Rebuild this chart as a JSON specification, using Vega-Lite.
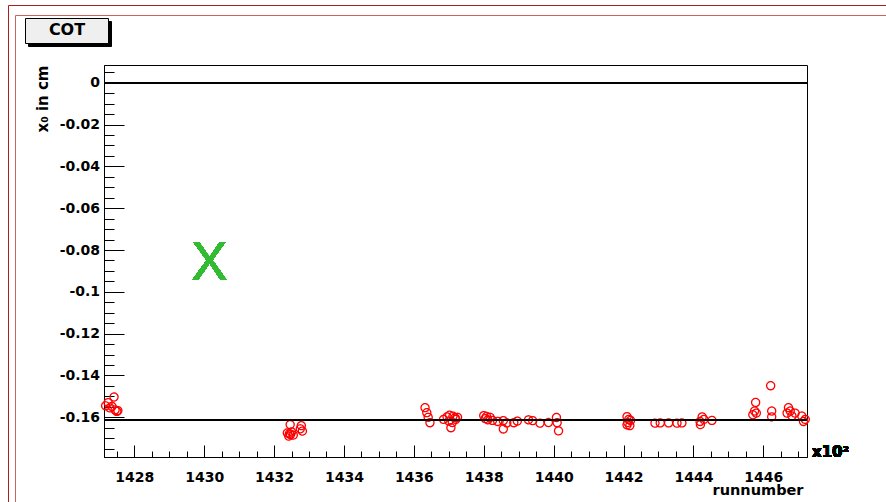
{
  "$schema": "https://vega.github.io/schema/vega-lite/v6.json",
  "width": 703,
  "height": 392,
  "autosize": {"type": "none"},
  "padding": {"left": 104, "top": 65, "right": 79, "bottom": 45},
  "background": "white",
  "config": {"view": {"stroke": "#000", "strokeWidth": 1}, "font": "DejaVu Sans"},
  "resolve": {"axis": {"x": "independent", "y": "independent"}},
  "data": {
    "values": [
      {"run": 1427.18, "x0": -0.1545}, {"run": 1427.25, "x0": -0.153}, {"run": 1427.30, "x0": -0.1555}, {"run": 1427.36, "x0": -0.1548},
      {"run": 1427.42, "x0": -0.1503}, {"run": 1427.45, "x0": -0.1565}, {"run": 1427.50, "x0": -0.1572}, {"run": 1427.53, "x0": -0.1568},
      {"run": 1432.38, "x0": -0.1675}, {"run": 1432.42, "x0": -0.169}, {"run": 1432.47, "x0": -0.1683}, {"run": 1432.50, "x0": -0.167},
      {"run": 1432.44, "x0": -0.1678}, {"run": 1432.46, "x0": -0.1635}, {"run": 1432.55, "x0": -0.1685}, {"run": 1432.75, "x0": -0.1655},
      {"run": 1432.78, "x0": -0.164}, {"run": 1432.81, "x0": -0.1666},
      {"run": 1436.32, "x0": -0.1554}, {"run": 1436.37, "x0": -0.1578}, {"run": 1436.41, "x0": -0.16}, {"run": 1436.46, "x0": -0.1626},
      {"run": 1436.85, "x0": -0.161}, {"run": 1436.95, "x0": -0.1598}, {"run": 1437.02, "x0": -0.159}, {"run": 1437.12, "x0": -0.1595},
      {"run": 1437.20, "x0": -0.161}, {"run": 1437.10, "x0": -0.1625}, {"run": 1437.00, "x0": -0.1618}, {"run": 1437.06, "x0": -0.165},
      {"run": 1437.25, "x0": -0.16}, {"run": 1437.18, "x0": -0.1602},
      {"run": 1438.00, "x0": -0.1592}, {"run": 1438.08, "x0": -0.1596}, {"run": 1438.18, "x0": -0.16}, {"run": 1438.12, "x0": -0.1612},
      {"run": 1438.04, "x0": -0.1606}, {"run": 1438.25, "x0": -0.1615}, {"run": 1438.40, "x0": -0.162}, {"run": 1438.56, "x0": -0.1616},
      {"run": 1438.56, "x0": -0.1656}, {"run": 1438.66, "x0": -0.1627}, {"run": 1438.86, "x0": -0.1626}, {"run": 1438.96, "x0": -0.1618},
      {"run": 1439.28, "x0": -0.1612}, {"run": 1439.40, "x0": -0.1616}, {"run": 1439.61, "x0": -0.1628}, {"run": 1439.85, "x0": -0.1625},
      {"run": 1440.08, "x0": -0.1601}, {"run": 1440.10, "x0": -0.1626}, {"run": 1440.14, "x0": -0.1665},
      {"run": 1442.10, "x0": -0.1597}, {"run": 1442.15, "x0": -0.161}, {"run": 1442.12, "x0": -0.1625}, {"run": 1442.18, "x0": -0.164},
      {"run": 1442.20, "x0": -0.1615}, {"run": 1442.10, "x0": -0.1636},
      {"run": 1442.90, "x0": -0.1628}, {"run": 1443.05, "x0": -0.1627}, {"run": 1443.29, "x0": -0.1627}, {"run": 1443.53, "x0": -0.1628},
      {"run": 1443.67, "x0": -0.1627},
      {"run": 1444.19, "x0": -0.162}, {"run": 1444.25, "x0": -0.1598}, {"run": 1444.30, "x0": -0.161}, {"run": 1444.20, "x0": -0.1635},
      {"run": 1444.53, "x0": -0.1615},
      {"run": 1445.70, "x0": -0.1588}, {"run": 1445.75, "x0": -0.157}, {"run": 1445.80, "x0": -0.158}, {"run": 1445.78, "x0": -0.1529},
      {"run": 1446.21, "x0": -0.1449}, {"run": 1446.24, "x0": -0.157}, {"run": 1446.24, "x0": -0.1598},
      {"run": 1446.72, "x0": -0.1554}, {"run": 1446.77, "x0": -0.157}, {"run": 1446.82, "x0": -0.1594}, {"run": 1446.68, "x0": -0.158},
      {"run": 1446.91, "x0": -0.158}, {"run": 1447.10, "x0": -0.1594}, {"run": 1447.20, "x0": -0.161}, {"run": 1447.15, "x0": -0.162}
    ]
  },
  "layer": [
    {
      "mark": {"type": "point", "filled": false, "size": 65, "strokeWidth": 1.3},
      "encoding": {
        "x": {
          "field": "run", "type": "quantitative",
          "scale": {"domain": [1427.133, 1447.25], "nice": false, "zero": false},
          "axis": {
            "orient": "bottom",
            "values": [1428, 1430, 1432, 1434, 1436, 1438, 1440, 1442, 1444, 1446],
            "title": "runnumber",
            "titleFont": "DejaVu Sans", "titleFontWeight": "bold", "titleFontSize": 14.5, "titleColor": "#000",
            "titleAnchor": "end", "titleAlign": "right", "titleBaseline": "alphabetic", "titleX": 699, "titleY": 37,
            "labelExpr": "'' + datum.value",
            "labelFont": "DejaVu Sans", "labelFontWeight": "bold", "labelFontSize": 14, "labelColor": "#000",
            "labelPadding": 25, "labelFlush": false, "labelOverlap": false,
            "tickColor": "#000", "tickWidth": 1, "tickSize": -12,
            "domainColor": "#000", "grid": false
          }
        },
        "y": {
          "field": "x0", "type": "quantitative",
          "scale": {"domain": [-0.179, 0.0085], "nice": false, "zero": false},
          "axis": {
            "orient": "left",
            "values": [0, -0.02, -0.04, -0.06, -0.08, -0.1, -0.12, -0.14, -0.16],
            "title": "x₀ in cm",
            "titleFont": "DejaVu Sans", "titleFontWeight": "bold", "titleFontSize": 15, "titleColor": "#000",
            "titleAnchor": "end", "titleAlign": "right", "titleAngle": -90, "titleBaseline": "alphabetic", "titleX": -57, "titleY": 0,
            "labelExpr": "'' + datum.value",
            "labelFont": "DejaVu Sans", "labelFontWeight": "bold", "labelFontSize": 14, "labelColor": "#000",
            "labelPadding": 24.5, "labelFlush": false, "labelOverlap": false,
            "tickColor": "#000", "tickWidth": 1, "tickSize": -20,
            "domainColor": "#000", "grid": false
          }
        },
        "color": {
          "datum": "COT", "type": "nominal", "scale": {"range": ["#ff0000"]},
          "legend": {
            "orient": "none", "legendX": -79, "legendY": -47,
            "title": "COT", "titleFont": "DejaVu Sans", "titleFontWeight": "bold", "titleFontSize": 16, "titleColor": "#000",
            "titleAnchor": "middle", "titleAlign": "center", "titlePadding": 0,
            "labelExpr": "''", "labelFontSize": 1, "labelOffset": 74,
            "symbolSize": 1, "symbolStrokeWidth": 0, "symbolOpacity": 0,
            "padding": 4, "strokeColor": "#000", "fillColor": "#efefef", "zindex": 3
          }
        },
        "opacity": {
          "datum": "S", "type": "nominal", "scale": {"range": [1, 1]},
          "legend": {
            "orient": "none", "legendX": -76, "legendY": -44, "title": null,
            "labelExpr": "''", "labelFontSize": 1, "labelOffset": 58,
            "symbolSize": 625, "symbolStrokeWidth": 0, "symbolOpacity": 0,
            "padding": 0, "strokeColor": "#000", "fillColor": "#000", "zindex": 2
          }
        },
        "shape": {
          "datum": "F1", "type": "nominal", "scale": {"range": ["circle"]},
          "legend": {
            "orient": "none", "legendX": -96, "legendY": -60, "title": null,
            "labelExpr": "''", "labelOffset": 400, "symbolSize": 360000, "symbolStrokeWidth": 0, "symbolOpacity": 0,
            "padding": 0, "strokeColor": "#a82020", "zindex": 1
          }
        },
        "fillOpacity": {
          "datum": "F3", "type": "nominal", "scale": {"range": [1, 1]},
          "legend": {
            "orient": "none", "legendX": -95, "legendY": -59, "title": null,
            "labelExpr": "''", "labelOffset": 400, "symbolSize": 360000, "symbolStrokeWidth": 0, "symbolOpacity": 0,
            "padding": 0, "strokeColor": "#d08888", "zindex": 1
          }
        },
        "strokeDash": {
          "datum": "F2", "type": "nominal", "scale": {"range": [[1, 0]]},
          "legend": {
            "orient": "none", "legendX": -89, "legendY": -50, "title": null,
            "labelExpr": "''", "labelOffset": 400, "symbolSize": 360000, "symbolStrokeWidth": 0, "symbolOpacity": 0,
            "padding": 0, "strokeColor": "#c86464", "zindex": 1
          }
        },
        "strokeOpacity": {
          "datum": "F4", "type": "nominal", "scale": {"range": [1, 1]},
          "legend": {
            "orient": "none", "legendX": -88, "legendY": -49, "title": null,
            "labelExpr": "''", "labelOffset": 400, "symbolSize": 360000, "symbolStrokeWidth": 0, "symbolOpacity": 0,
            "padding": 0, "strokeColor": "#d89090", "zindex": 1
          }
        }
      }
    },
    {
      "mark": {"type": "rule", "color": "#000", "strokeWidth": 1.2},
      "encoding": {"y": {"datum": 0, "type": "quantitative", "axis": null}}
    },
    {
      "mark": {"type": "rule", "color": "#000", "strokeWidth": 1.2},
      "encoding": {"y": {"datum": -0.1613, "type": "quantitative", "axis": null}}
    },
    {
      "mark": {"type": "text", "text": "X", "align": "center", "baseline": "alphabetic", "font": "Liberation Sans", "fontSize": 55, "color": "#33bb33"},
      "encoding": {
        "x": {"datum": 1430.15, "type": "quantitative", "axis": null},
        "y": {"datum": -0.0943, "type": "quantitative", "axis": null}
      }
    },
    {
      "mark": {"type": "text", "text": "x10²", "align": "left", "baseline": "alphabetic", "dx": 5, "font": "DejaVu Sans", "fontWeight": "bold", "fontSize": 15, "color": "#000"},
      "encoding": {
        "x": {
          "datum": 1447.25, "type": "quantitative",
          "axis": {
            "orient": "bottom", "title": null, "labels": false, "domain": false, "grid": false,
            "values": [1427.5, 1428.5, 1429, 1429.5, 1430.5, 1431, 1431.5, 1432.5, 1433, 1433.5, 1434.5, 1435, 1435.5, 1436.5, 1437, 1437.5, 1438.5, 1439, 1439.5, 1440.5, 1441, 1441.5, 1442.5, 1443, 1443.5, 1444.5, 1445, 1445.5, 1446.5, 1447],
            "tickColor": "#000", "tickWidth": 1, "tickSize": -6
          }
        },
        "y": {
          "datum": -0.179, "type": "quantitative",
          "axis": {
            "orient": "left", "title": null, "labels": false, "domain": false, "grid": false,
            "values": [0.005, -0.005, -0.01, -0.015, -0.025, -0.03, -0.035, -0.045, -0.05, -0.055, -0.065, -0.07, -0.075, -0.085, -0.09, -0.095, -0.105, -0.11, -0.115, -0.125, -0.13, -0.135, -0.145, -0.15, -0.155, -0.165, -0.17, -0.175],
            "tickColor": "#000", "tickWidth": 1, "tickSize": -10
          }
        }
      }
    }
  ]
}
